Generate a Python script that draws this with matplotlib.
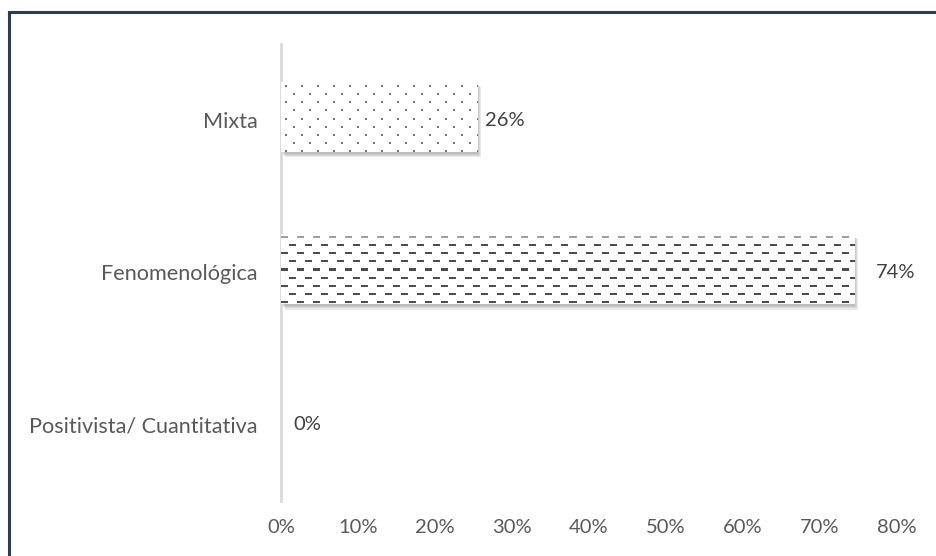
import numpy as np
import matplotlib
matplotlib.use("Agg")
import matplotlib.pyplot as plt
from matplotlib import patheffects as pe
from matplotlib.lines import Line2D

categories = ["Positivista/ Cuantitativa", "Fenomenológica", "Mixta"]
values = [0.0, 0.7447, 0.2553]
xticks = [0.0, 0.1, 0.2, 0.3, 0.4, 0.5, 0.6, 0.7, 0.8]
xtick_labels = ["0%", "10%", "20%", "30%", "40%", "50%", "60%", "70%", "80%"]
patterns = [None, "dash", "dot"]
label_offsets_px = [12, 21, 7]

plt.rcParams["font.family"] = ["Lato", "DejaVu Sans"]
TXT = "#595959"
FS = 14.5
FS_Y = 15.6

fig = plt.figure(figsize=(9.36, 5.56), dpi=100)
W, H = 936, 556
ax = fig.add_axes([281 / W, 55 / H, (897 - 281) / W, (501 - 44) / H])
ax.set_xlim(0, 0.8)
ax.set_ylim(-0.5, 2.5)

ypos = np.arange(len(categories))
bars = ax.barh(ypos + 0.02, values, height=0.46, color="white", edgecolor="none", zorder=2)

shadow = [pe.SimplePatchShadow(offset=(o * 0.72, -o * 0.9 - 0.5), shadow_rgbFace="#808080", alpha=0.16)
          for o in (3.5, 2.5, 1.5, 0.8)] + [pe.Normal()]


def make_texture(kind, w, h):
    img = np.ones((h, w, 4))
    if kind == "dash":
        for r, y in enumerate(range(3, h - 1, 8)):
            shade = 0.62 if r == 0 else 0.30
            off = 0 if r % 2 == 0 else 8
            for x in range(off, w, 16):
                img[y:y + 2, x:x + 7, :3] = shade
    elif kind == "dot":
        for r, y in enumerate(range(4, h - 1, 8)):
            off = 4 if r % 2 == 0 else 12
            for x in range(off, w, 16):
                img[y:y + 2, x:x + 2, :3] = 0.45
    return img


for bar, kind in zip(bars, patterns):
    if kind is None or bar.get_width() <= 0:
        continue
    bar.set_path_effects(shadow)
    x0, y0 = bar.get_x(), bar.get_y()
    x1, y1 = x0 + bar.get_width(), y0 + bar.get_height()
    (px0, py0), (px1, py1) = ax.transData.transform([(x0, y0), (x1, y1)])
    w = max(1, int(round(px1 - px0)))
    h = max(1, int(round(py1 - py0)))
    im = ax.imshow(make_texture(kind, w, h), extent=[x0, x1, y0, y1], aspect="auto",
                   interpolation="nearest", zorder=3, origin="upper")
    im.set_clip_path(bar)

ax.set_xlim(0, 0.8)
ax.set_ylim(-0.5, 2.5)

for i, (v, off) in enumerate(zip(values, label_offsets_px)):
    ax.annotate(f"{round(v * 100):.0f}%", (v, ypos[i]), xytext=(off * 0.72, 0),
                textcoords="offset points", va="center", ha="left", color="#404040",
                fontsize=FS, zorder=5)

ax.set_yticks(ypos)
ax.set_yticklabels(categories)
ax.set_xticks(xticks)
ax.set_xticklabels(xtick_labels)
ax.tick_params(axis="y", length=0, pad=17, labelsize=FS_Y, labelcolor=TXT)
ax.tick_params(axis="x", length=0, pad=13, labelsize=FS, labelcolor=TXT)
for s in ["top", "right", "bottom"]:
    ax.spines[s].set_visible(False)
ax.spines["left"].set_color("#d9d9d9")
ax.spines["left"].set_linewidth(2)
ax.set_facecolor("none")

border = "#2f3b52"
fig.add_artist(Line2D([8.5 / W, 8.5 / W], [0, 1 - 12 / H], transform=fig.transFigure,
                      color=border, lw=2.2, solid_capstyle="projecting"))
fig.add_artist(Line2D([8.5 / W, 1], [1 - 12 / H, 1 - 12 / H], transform=fig.transFigure,
                      color=border, lw=2.2, solid_capstyle="projecting"))

fig.savefig("out.png", dpi=100)
